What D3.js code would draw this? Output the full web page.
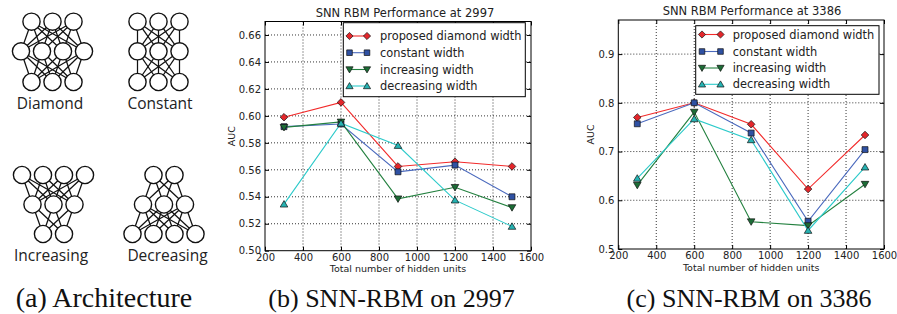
<!DOCTYPE html>
<html><head><meta charset="utf-8">
<script src="https://cdn.jsdelivr.net/npm/d3@7/dist/d3.min.js"></script>
<style>html,body{margin:0;padding:0;background:#fff;}svg{display:block;}</style>
</head><body>
<script>
// ---------- data ----------
const hiddenUnits = [300, 600, 900, 1200, 1500];
const xTicks = [200, 400, 600, 800, 1000, 1200, 1400, 1600];
const seriesNames = ["proposed diamond width", "constant width", "increasing width", "decreasing width"];

const auc2997Diamond    = [0.599, 0.610, 0.5625, 0.566, 0.5625];
const auc2997Constant   = [0.592, 0.594, 0.5585, 0.5635, 0.540];
const auc2997Increasing = [0.5915, 0.5955, 0.5385, 0.547, 0.532];
const auc2997Decreasing = [0.5345, 0.5945, 0.578, 0.5375, 0.518];
const yTicks2997 = [0.50, 0.52, 0.54, 0.56, 0.58, 0.60, 0.62, 0.64, 0.66];

const auc3386Diamond    = [0.770, 0.800, 0.756, 0.623, 0.734];
const auc3386Constant   = [0.757, 0.800, 0.738, 0.557, 0.704];
const auc3386Increasing = [0.631, 0.781, 0.556, 0.548, 0.633];
const auc3386Decreasing = [0.645, 0.767, 0.724, 0.538, 0.668];
const yTicks3386 = [0.5, 0.6, 0.7, 0.8, 0.9];

const archNames = ["Diamond", "Constant", "Increasing", "Decreasing"];
const archLayers = [[3, 4, 3], [3, 3, 3], [4, 3, 2], [2, 3, 4]];

const captions = ["(a) Architecture", "(b) SNN-RBM on 2997", "(c) SNN-RBM on 3386"];

// ---------- styles ----------
const lineColors = ["#f22a2a", "#4a69bd", "#23803f", "#2ccaca"];
const fillColors = ["#e3262b", "#2f51a3", "#1c6d36", "#26b3b3"];
const markerKinds = ["D", "s", "v", "^"];

const svg = d3.select("body").append("svg").attr("width", 897).attr("height", 314);

function markerPath(kind, r) {
  const p = d3.path();
  if (kind === "D") { p.moveTo(0, -r); p.lineTo(r, 0); p.lineTo(0, r); p.lineTo(-r, 0); p.closePath(); }
  else if (kind === "s") { const h = r * 0.78; p.rect(-h, -h, 2 * h, 2 * h); }
  else if (kind === "v") { p.moveTo(-r, -r * 0.75); p.lineTo(r, -r * 0.75); p.lineTo(0, r * 0.95); p.closePath(); }
  else { p.moveTo(-r, r * 0.75); p.lineTo(r, r * 0.75); p.lineTo(0, -r * 0.95); p.closePath(); }
  return p.toString();
}

// ---------- architecture panel ----------
const archG = svg.append("g");
const archCenters = [[52.5, [21.7, 51.3, 82]], [158.5, [21.7, 51.3, 82]], [53.5, [175, 204.5, 234]], [164, [175, 204.5, 234]]];
const labelPos = [[50, 108.5], [160, 108.5], [51, 260.5], [167.5, 260.5]];
const nodeSpacing = 21, nodeR = 8.6;
archLayers.forEach((layers, ai) => {
  const [cx, rows] = archCenters[ai];
  const nodes = layers.map((n, li) => d3.range(n).map(k => ({ x: cx + (k - (n - 1) / 2) * nodeSpacing, y: rows[li] })));
  const g = archG.append("g");
  for (let li = 0; li < nodes.length - 1; li++) {
    nodes[li].forEach(a => nodes[li + 1].forEach(b => {
      g.append("line").attr("x1", a.x).attr("y1", a.y).attr("x2", b.x).attr("y2", b.y)
        .attr("stroke", "#111").attr("stroke-width", 1.25);
    }));
  }
  nodes.flat().forEach(n => g.append("circle").attr("cx", n.x).attr("cy", n.y).attr("r", nodeR)
    .attr("fill", "#fff").attr("stroke", "#111").attr("stroke-width", 1.4));
  archG.append("text").attr("x", labelPos[ai][0]).attr("y", labelPos[ai][1])
    .attr("text-anchor", "middle").attr("font-family", "Open Sans").attr("font-size", 15.5)
    .attr("fill", "#222").text(archNames[ai]);
});

// ---------- line charts ----------
function drawChart(cfg) {
  const x = d3.scaleLinear().domain([200, 1600]).range([cfg.left, cfg.right]);
  const y = d3.scaleLinear().domain(cfg.yDomain).range([cfg.bottom, cfg.top]);
  const g = svg.append("g");
  const font = "DejaVu Sans";

  // grid
  g.append("g").selectAll("line").data(xTicks.slice(1, -1)).join("line")
    .attr("x1", d => x(d)).attr("x2", d => x(d)).attr("y1", cfg.top).attr("y2", cfg.bottom)
    .attr("stroke", "#000").attr("stroke-width", 0.8).attr("stroke-dasharray", "1,2");
  g.append("g").selectAll("line").data(cfg.yTicks.filter(v => v > cfg.yDomain[0] + 1e-9 && v < cfg.yDomain[1] - 1e-9)).join("line")
    .attr("x1", cfg.left).attr("x2", cfg.right).attr("y1", d => y(d)).attr("y2", d => y(d))
    .attr("stroke", "#000").attr("stroke-width", 0.8).attr("stroke-dasharray", "1,2");

  // axes (ticks inward)
  const axB = d3.axisBottom(x).tickValues(xTicks).tickSize(-4).tickPadding(3).tickFormat(d3.format("d"));
  const axT = d3.axisTop(x).tickValues(xTicks).tickSize(-4).tickFormat("");
  const axL = d3.axisLeft(y).tickValues(cfg.yTicks).tickSize(-4).tickPadding(4).tickFormat(d3.format(cfg.fmt));
  const axR = d3.axisRight(y).tickValues(cfg.yTicks).tickSize(-4).tickFormat("");
  [[axB, `translate(0,${cfg.bottom})`], [axT, `translate(0,${cfg.top})`], [axL, `translate(${cfg.left},0)`], [axR, `translate(${cfg.right},0)`]]
    .forEach(([ax, tr]) => {
      const a = g.append("g").attr("transform", tr).call(ax);
      a.select(".domain").remove();
      a.selectAll("line").attr("stroke", "#000").attr("stroke-width", 1);
      a.selectAll("text").attr("font-family", font).attr("font-size", 10).attr("fill", "#222");
    });
  g.append("rect").attr("x", cfg.left).attr("y", cfg.top).attr("width", cfg.right - cfg.left)
    .attr("height", cfg.bottom - cfg.top).attr("fill", "none").attr("stroke", "#000").attr("stroke-width", 1);

  // series
  cfg.series.forEach((vals, si) => {
    const pts = hiddenUnits.map((h, i) => [h, vals[i]]);
    g.append("path").datum(pts).attr("fill", "none").attr("stroke", lineColors[si]).attr("stroke-width", 1.1)
      .attr("d", d3.line().x(d => x(d[0])).y(d => y(d[1])));
  });
  cfg.series.forEach((vals, si) => {
    g.append("g").selectAll("path").data(hiddenUnits.map((h, i) => [h, vals[i]])).join("path")
      .attr("transform", d => `translate(${x(d[0])},${y(d[1])})`)
      .attr("d", markerPath(markerKinds[si], 3.8))
      .attr("fill", fillColors[si]).attr("stroke", "#111").attr("stroke-width", 0.7);
  });

  // labels
  g.append("text").attr("x", cfg.titleX).attr("y", cfg.top - 5).attr("text-anchor", "middle")
    .attr("font-family", font).attr("font-size", 11.5).attr("fill", "#222").text(cfg.title);
  g.append("text").attr("x", (cfg.left + cfg.right) / 2).attr("y", cfg.bottom + 21.5).attr("text-anchor", "middle")
    .attr("font-family", font).attr("font-size", 9.5).attr("fill", "#222").text("Total number of hidden units");
  g.append("text").attr("transform", `translate(${cfg.yLabelX},${(cfg.top + cfg.bottom) / 2}) rotate(-90)`)
    .attr("text-anchor", "middle").attr("font-family", font).attr("font-size", 9.5).attr("fill", "#222").text("AUC");

  // legend
  const L = cfg.legend;
  g.append("rect").attr("x", L.x0).attr("y", L.y0).attr("width", L.x1 - L.x0).attr("height", L.y1 - L.y0)
    .attr("fill", "#fff").attr("stroke", "#000").attr("stroke-width", 1);
  seriesNames.forEach((name, si) => {
    const yy = L.ys[si];
    g.append("line").attr("x1", L.hx0).attr("x2", L.hx1).attr("y1", yy).attr("y2", yy)
      .attr("stroke", lineColors[si]).attr("stroke-width", 1.1);
    [L.hx0, L.hx1].forEach(hx => g.append("path").attr("transform", `translate(${hx},${yy})`)
      .attr("d", markerPath(markerKinds[si], 3.6)).attr("fill", fillColors[si]).attr("stroke", "#111").attr("stroke-width", 0.7));
    g.append("text").attr("x", L.tx).attr("y", yy + 4).attr("font-family", font).attr("font-size", 11.4)
      .attr("fill", "#222").text(name);
  });
}

drawChart({
  left: 265, right: 531, top: 21.5, bottom: 250.7, yDomain: [0.50, 0.67], yTicks: yTicks2997, fmt: ".2f",
  series: [auc2997Diamond, auc2997Constant, auc2997Increasing, auc2997Decreasing],
  title: "SNN RBM Performance at 2997", titleX: 405, yLabelX: 235,
  legend: { x0: 343.3, x1: 525.3, y0: 22.7, y1: 96.7, ys: [36, 52.7, 69.5, 86], hx0: 349.5, hx1: 367, tx: 380 }
});
drawChart({
  left: 618.3, right: 884, top: 20, bottom: 249, yDomain: [0.5, 0.97], yTicks: yTicks3386, fmt: ".1f",
  series: [auc3386Diamond, auc3386Constant, auc3386Increasing, auc3386Decreasing],
  title: "SNN RBM Performance at 3386", titleX: 752, yLabelX: 593.5,
  legend: { x0: 695.7, x1: 879, y0: 25.7, y1: 94.3, ys: [34.5, 51.5, 68, 84.3], hx0: 702, hx1: 720.5, tx: 732.7 }
});

// captions
[[104, captions[0], 28], [391.5, captions[1], 26], [749, captions[2], 26]].forEach(([cx, t, fs]) => {
  svg.append("text").attr("x", cx).attr("y", 306.5).attr("text-anchor", "middle")
    .attr("font-family", "Liberation Serif").attr("font-size", fs).attr("fill", "#111").text(t);
});
</script>
</body></html>
